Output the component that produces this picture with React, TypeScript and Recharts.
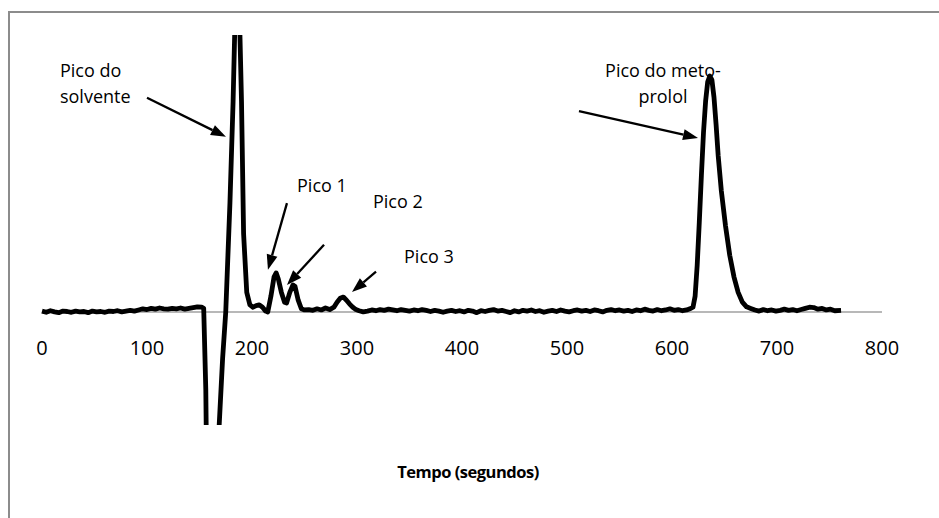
import React from "react";
import {
  LineChart,
  Line,
  XAxis,
  YAxis,
  ReferenceLine,
  ReferenceDot,
  Label,
} from "recharts";

// detector signal, [time (s), signal]
const preSolvent: [number, number][] = [
  [0, 0.2], [4, -0.1], [8, 0.3], [12, 0.0], [16, -0.2], [20, 0.2], [24, 0.1],
  [28, -0.1], [32, 0.2], [36, 0.0], [40, 0.1], [44, -0.2], [48, 0.2], [52, 0.0],
  [56, 0.1], [60, -0.1], [64, 0.2], [68, 0.1], [72, 0.3], [76, 0.0], [80, 0.2],
  [84, 0.4], [88, 0.2], [92, 0.5], [96, 0.8], [100, 0.6], [104, 0.9], [108, 0.7],
  [112, 1.0], [116, 0.8], [120, 0.7], [124, 0.9], [128, 0.8], [132, 1.0],
  [136, 0.7], [140, 0.9], [144, 1.1], [148, 1.3], [152, 1.2],
];

const solventPeak: [number, number][] = [
  [154, 0.9], [156, -20], [158, -70], [161, -95], [164, -75], [168, -33],
  [172, -12], [175, 0], [179, 28], [182, 54], [186, 100], [190, 54], [192, 20],
  [195, 5], [198, 1.8],
];

const impurityPeaks: [number, number][] = [
  [201, 1.2], [204, 1.6], [207, 1.8], [210, 1.2], [213, 0.2], [215, 0.0],
  [218, 4], [221, 9], [223, 10], [225, 8.5], [228, 5], [231, 2.5], [233, 2.3],
  [236, 5], [239, 6.9], [241, 6.5], [244, 3], [247, 0.8], [250, 0.5], [254, 0.6],
  [258, 0.4], [262, 0.8], [266, 0.5], [270, 1.0], [274, 0.6], [278, 1.2],
  [281, 2.5], [284, 3.5], [287, 3.8], [290, 3.0], [293, 2.0], [296, 1.2],
  [299, 0.6],
];

const midBaseline: [number, number][] = [
  [302, 0.3], [306, 0.0], [310, 0.2], [314, 0.5], [318, 0.3], [322, 0.6],
  [326, 0.4], [330, 0.7], [334, 0.5], [338, 0.3], [342, 0.6], [346, 0.4],
  [350, 0.2], [354, 0.5], [358, 0.3], [362, 0.6], [366, 0.4], [370, 0.1],
  [374, 0.4], [378, 0.2], [382, -0.1], [386, 0.2], [390, 0.4], [394, 0.1],
  [398, 0.3], [402, 0.0], [406, 0.4], [410, 0.2], [414, -0.2], [418, 0.3],
  [422, 0.1], [426, 0.4], [430, 0.6], [434, 0.2], [438, 0.4], [442, 0.1],
  [446, -0.2], [450, 0.3], [454, 0.0], [458, 0.4], [462, 0.2], [466, 0.5],
  [470, 0.1], [474, 0.3], [478, -0.1], [482, 0.2], [486, 0.4], [490, 0.1],
  [494, 0.5], [498, 0.2], [502, 0.0], [506, 0.3], [510, 0.5], [514, 0.2],
  [518, 0.4], [522, 0.1], [526, 0.5], [530, 0.3], [534, 0.0], [538, 0.4],
  [542, 0.6], [546, 0.3], [550, 0.5], [554, 0.2], [558, 0.4], [562, 0.1],
  [566, 0.5], [570, 0.3], [574, 0.7], [578, 0.4], [582, 0.2], [586, 0.6],
  [590, 0.3], [594, 0.5], [598, 0.8], [602, 0.4], [606, 0.6], [610, 0.3],
  [614, 0.5],
];

const metoprololPeak: [number, number][] = [
  [617, 0.8], [620, 1.2], [622, 4], [624, 12], [626, 23], [628, 35], [630, 46],
  [632, 54], [634, 59], [636, 60.5], [638, 59.5], [640, 55], [642, 48],
  [644, 40], [647, 31], [651, 22], [655, 14.5], [659, 9], [663, 5], [667, 2.5],
  [671, 1.3],
];

const tailBaseline: [number, number][] = [
  [675, 0.9], [679, 0.5], [683, 0.2], [687, 0.6], [691, 0.3], [695, 0.5],
  [699, 0.2], [703, 0.4], [707, 0.7], [711, 0.4], [715, 0.6], [719, 0.3],
  [723, 0.6], [727, 0.9], [731, 1.2], [735, 1.1], [739, 0.7], [743, 0.9],
  [747, 0.5], [751, 0.7], [755, 0.3], [761, 0.4],
];

const xTicks = [0, 100, 200, 300, 400, 500, 600, 700, 800];

// annotations, in data units
const noteTexts = [
  { x: 17.1, y: 60.3, lines: ["Pico do", "solvente"], anchor: "start" },
  { x: 242.9, y: 30.8, lines: ["Pico 1"], anchor: "start" },
  { x: 315.2, y: 26.7, lines: ["Pico 2"], anchor: "start" },
  { x: 344.8, y: 12.6, lines: ["Pico 3"], anchor: "start" },
  { x: 591.4, y: 60.3, lines: ["Pico do meto-", "prolol"], anchor: "middle" },
];

const noteArrows = [
  [{ x: 100, y: 54.9 }, { x: 175.2, y: 44.9 }],
  [{ x: 233.3, y: 27.9 }, { x: 215.2, y: 10.8 }],
  [{ x: 268.6, y: 17.2 }, { x: 233.3, y: 6.9 }],
  [{ x: 318.1, y: 10.3 }, { x: 295.2, y: 5.1 }],
  [{ x: 511.4, y: 51.5 }, { x: 624.8, y: 44.6 }],
];

const chartData = [
  ...preSolvent,
  ...solventPeak,
  ...impurityPeaks,
  ...midBaseline,
  ...metoprololPeak,
  ...tailBaseline,
].map(([t, v]) => ({ t, v }));

const Arrow = (props: any) => {
  const { x1, y1, x2, y2 } = props;
  const ang = Math.atan2(y2 - y1, x2 - x1);
  const len = 15;
  const half = 5.5;
  const bx = x2 - len * Math.cos(ang);
  const by = y2 - len * Math.sin(ang);
  const p1 = `${bx + half * Math.sin(ang)},${by - half * Math.cos(ang)}`;
  const p2 = `${bx - half * Math.sin(ang)},${by + half * Math.cos(ang)}`;
  return (
    <g>
      <line x1={x1} y1={y1} x2={bx} y2={by} stroke="#000" strokeWidth={2.3} />
      <polygon points={`${x2},${y2} ${p1} ${p2}`} fill="#000" />
    </g>
  );
};

const noteShape = (lines: string[], anchor: string) => (p: any) => (
  <text x={p.cx} y={p.cy} textAnchor={anchor} fontSize={18} fill="#000">
    {lines.map((s, i) => (
      <tspan key={s} x={p.cx} dy={i === 0 ? 0 : 26}>
        {s}
      </tspan>
    ))}
  </text>
);

export default function App() {
  return (
    <div
      style={{
        position: "absolute",
        left: 0,
        top: 0,
        width: 939,
        height: 518,
        background: "#fff",
        fontFamily: "'Open Sans', sans-serif",
        overflow: "hidden",
      }}
    >
      <div
        style={{
          position: "absolute",
          left: 8,
          top: 11,
          width: 931,
          height: 507,
          borderTop: "2px solid #8c8c8c",
          borderLeft: "2px solid #8c8c8c",
          boxSizing: "border-box",
        }}
      />
      <div style={{ position: "absolute", left: 0, top: 0 }}>
        <LineChart
          width={939}
          height={518}
          data={chartData}
          margin={{ top: 35, right: 57, bottom: 0, left: 42 }}
        >
          <XAxis
            dataKey="t"
            type="number"
            domain={[0, 800]}
            ticks={xTicks}
            tick={false}
            tickLine={false}
            axisLine={false}
            height={93}
          >
            <Label
              value="Tempo (segundos)"
              position="insideTop"
              offset={41}
              dx={6}
              fontSize={16.5}
              fontWeight={700}
              letterSpacing={-0.5}
              fill="#000"
            />
          </XAxis>
          <YAxis hide type="number" domain={[-29, 71]} allowDataOverflow />
          <ReferenceLine y={0} stroke="#a0a0a0" strokeWidth={1.5} />
          {xTicks.map((t) => (
            <ReferenceDot
              key={t}
              x={t}
              y={0}
              r={0}
              fill="none"
              stroke="none"
              label={{
                value: String(t),
                position: "bottom",
                offset: 29,
                fontSize: 20,
                fill: "#000",
              }}
            />
          ))}
          <Line
            type="linear"
            dataKey="v"
            stroke="#000"
            strokeWidth={4.8}
            strokeLinejoin="round"
            dot={false}
            isAnimationActive={false}
          />
          {noteArrows.map((seg, i) => (
            <ReferenceLine key={i} segment={seg} shape={Arrow} />
          ))}
          {noteTexts.map((n) => (
            <ReferenceDot
              key={n.lines[0] + n.x}
              x={n.x}
              y={n.y}
              r={0}
              shape={noteShape(n.lines, n.anchor)}
            />
          ))}
        </LineChart>
      </div>
    </div>
  );
}
